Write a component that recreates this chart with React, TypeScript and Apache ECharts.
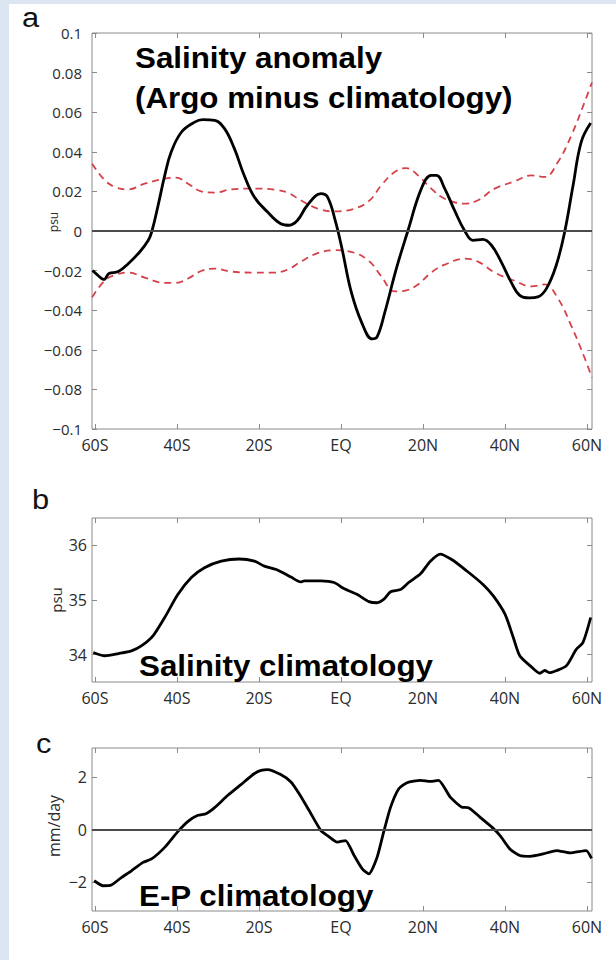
import { useEffect, useRef } from "react";
import * as echarts from "echarts";

// ---------- data ----------
const latTicks = [-60, -40, -20, 0, 20, 40, 60];
const latTickLabels = ["60S", "40S", "20S", "EQ", "20N", "40N", "60N"];

// panel a: salinity anomaly (Argo minus climatology), psu
const anomalyLat = [
  -60.6, -59.5, -57.8, -56.6, -54.3, -51.9, -49.1, -47.0, -46.1, -44.6, -43.0, -41.4, -38.9, -35.7,
  -33.7, -30.8, -28.4, -26.0, -23.6, -21.1, -17.9, -14.7, -12.6, -10.6, -8.2, -4.9, -3.3, -1.3, 0.3,
  2.5, 5.0, 7.6, 8.8, 10.7, 13.5, 16.3, 19.6, 22.0, 23.3, 25.3, 27.7, 30.2, 32.2, 34.6, 36.7, 39.1,
  41.5, 43.6, 46.0, 48.0, 50.1, 52.5, 54.6, 56.6, 58.6, 60.9,
];
const anomalyVal = [
  -0.02, -0.022, -0.0245, -0.0215, -0.0205, -0.0165, -0.0106, -0.0047, 0, 0.013, 0.028, 0.04, 0.05,
  0.055, 0.0562, 0.0559, 0.0517, 0.0416, 0.028, 0.017, 0.0096, 0.0037, 0.0029, 0.0054, 0.013, 0.0189,
  0.0172, 0.0045, -0.0095, -0.0308, -0.046, -0.0545, -0.0535, -0.041, -0.019, 0, 0.0214, 0.0281,
  0.0281, 0.0214, 0.0104, 0, -0.0047, -0.0042, -0.0072, -0.0157, -0.0258, -0.0325, -0.0338, -0.0333,
  -0.0291, -0.0173, 0, 0.023, 0.045, 0.0545,
];

// panel a: error bounds (red dashed)
const boundLat = [
  -60.7, -57.6, -55.1, -51.9, -47.9, -43.0, -40.2, -37.3, -34.1, -30.8, -26.8, -21.1, -16.3, -13.0,
  -9.8, -5.7, -1.7, 3.3, 7.0, 9.8, 13.1, 15.9, 18.8, 22.0, 25.3, 30.2, 33.4, 37.5, 42.4, 46.4, 49.7,
  52.9, 56.2, 59.4, 61.2,
];
const upperBound = [
  0.034, 0.0256, 0.0222, 0.021, 0.0239, 0.0264, 0.027, 0.0239, 0.02, 0.0194, 0.021, 0.0214, 0.0209,
  0.0194, 0.0155, 0.0113, 0.0099, 0.0113, 0.0155, 0.023, 0.0298, 0.0318, 0.0281, 0.0214, 0.0163,
  0.0138, 0.0155, 0.0214, 0.0251, 0.0281, 0.0273, 0.0348, 0.0483, 0.065, 0.075,
];
const lowerBound = [
  -0.0335, -0.025, -0.0222, -0.021, -0.0235, -0.0262, -0.0262, -0.024, -0.0202, -0.019, -0.0205,
  -0.021, -0.021, -0.0195, -0.0155, -0.0112, -0.0097, -0.011, -0.0155, -0.0228, -0.0305, -0.03,
  -0.027, -0.021, -0.017, -0.014, -0.0155, -0.021, -0.0252, -0.028, -0.027, -0.034, -0.048, -0.064,
  -0.074,
];

// panel b: salinity climatology, psu
const salinityLat = [
  -60.4, -57.6, -54.3, -51.1, -48.7, -45.8, -43.0, -39.8, -36.5, -33.3, -29.2, -24.8, -21.1, -18.7,
  -15.5, -12.2, -9.8, -9.0, -4.9, -1.7, 0.7, 4.0, 6.8, 8.8, 10.4, 12.1, 14.5, 16.5, 19.4, 21.8, 24.2,
  27.0, 30.7, 34.7, 37.2, 40.0, 42.0, 43.6, 46.1, 48.5, 49.7, 50.9, 52.6, 55.0, 57.4, 59.0, 60.9,
];
const salinityVal = [
  34.04, 33.98, 34.02, 34.07, 34.16, 34.35, 34.68, 35.1, 35.41, 35.59, 35.71, 35.75, 35.71, 35.62,
  35.55, 35.42, 35.33, 35.35, 35.35, 35.32, 35.21, 35.1, 34.97, 34.95, 35.01, 35.15, 35.19, 35.32,
  35.48, 35.71, 35.84, 35.74, 35.53, 35.28, 35.07, 34.74, 34.32, 33.98, 33.8, 33.66, 33.71, 33.67,
  33.71, 33.8, 34.1, 34.22, 34.68,
];

// panel c: E-P climatology, mm/day
const epLat = [
  -60.2, -58.0, -56.0, -53.5, -51.1, -48.3, -46.2, -43.0, -39.8, -37.3, -34.9, -32.9, -30.9, -27.6,
  -24.4, -21.1, -19.5, -17.9, -14.7, -12.2, -10.2, -7.8, -4.9, -3.3, -0.9, 1.1, 3.2, 5.2, 6.8, 8.8,
  10.4, 12.1, 14.1, 16.1, 19.4, 21.8, 23.8, 26.6, 29.5, 31.1, 33.9, 36.8, 38.8, 41.2, 43.6, 46.1,
  49.3, 52.6, 55.8, 59.8, 61.1,
];
const epVal = [
  -1.95, -2.14, -2.11, -1.82, -1.57, -1.25, -1.12, -0.68, -0.08, 0.31, 0.54, 0.6, 0.82, 1.3, 1.71,
  2.13, 2.25, 2.28, 2.09, 1.81, 1.36, 0.73, -0.04, -0.23, -0.48, -0.42, -0.99, -1.5, -1.69, -1.06,
  -0.1, 0.85, 1.55, 1.78, 1.87, 1.83, 1.87, 1.24, 0.85, 0.83, 0.47, 0.09, -0.23, -0.74, -0.99, -1.02,
  -0.93, -0.8, -0.89, -0.8, -1.1,
];

const salinityTicks = [34, 35, 36];
const epTicks = [-2, 0, 2];

// ---------- layout / style constants ----------
const LAT_MIN = -60.73;
const LAT_MAX = 61.22;
const TICK_FONT = '"Open Sans", "Noto Sans", sans-serif';
const TITLE_FONT = '"Liberation Sans", Arial, sans-serif';
const BOX = "#8a8a8a";
const LABEL = "#2b2b2b";

const zip = (xs: number[], ys: number[]) => xs.map((x, i) => [x, ys[i]]);
const minus = (s: string) => s.replace("-", "\u2212");
const latLabel = (v: number) => {
  const i = latTicks.indexOf(Math.round(v));
  return i >= 0 ? latTickLabels[i] : "";
};

export default function App() {
  const ref = useRef<HTMLDivElement>(null);

  useEffect(() => {
    if (!ref.current) return;
    const chart = echarts.init(ref.current, undefined, { renderer: "svg" });

    const grids = [
      { left: 92, top: 33, width: 500, height: 396 },
      { left: 92, top: 518, width: 500, height: 164 },
      { left: 92, top: 748, width: 500, height: 163 },
    ].map((g) => ({
      ...g,
      show: true,
      borderColor: BOX,
      borderWidth: 1,
      backgroundColor: "#ffffff",
      containLabel: false,
    }));

    const hiddenLine = { show: false, onZero: false };

    const xAxes: any[] = [];
    [0, 1, 2].forEach((gi) => {
      xAxes.push({
        type: "value",
        gridIndex: gi,
        position: "bottom",
        min: LAT_MIN,
        max: LAT_MAX,
        axisLine: hiddenLine,
        splitLine: { show: false },
        axisTick: {
          show: true,
          inside: true,
          length: 5,
          customValues: latTicks,
          lineStyle: { color: BOX, width: 1 },
        },
        axisLabel: {
          show: true,
          customValues: latTicks,
          formatter: (v: number) => latLabel(v),
          fontFamily: TICK_FONT,
          fontSize: 16,
          color: LABEL,
          margin: 8,
        },
      });
      xAxes.push({
        type: "value",
        gridIndex: gi,
        position: "top",
        min: LAT_MIN,
        max: LAT_MAX,
        axisLine: hiddenLine,
        splitLine: { show: false },
        axisLabel: { show: false },
        axisTick: {
          show: true,
          inside: true,
          length: 5,
          customValues: latTicks,
          lineStyle: { color: BOX, width: 1 },
        },
      });
    });

    const yDefs = [
      {
        min: -0.1,
        max: 0.1,
        interval: 0.02,
        custom: undefined as number[] | undefined,
        fmt: (v: number) => minus(String(Math.round(v * 100) / 100)),
        fontSize: 15,
        margin: 10,
      },
      {
        min: 33.5,
        max: 36.5,
        interval: undefined as number | undefined,
        custom: salinityTicks,
        fmt: (v: number) => String(v),
        fontSize: 16,
        margin: 5,
      },
      {
        min: -3.1,
        max: 3.1,
        interval: undefined as number | undefined,
        custom: epTicks,
        fmt: (v: number) => minus(String(v)),
        fontSize: 16,
        margin: 5,
      },
    ];
    const yAxes: any[] = [];
    yDefs.forEach((d, gi) => {
      const tick: any = {
        show: true,
        inside: true,
        length: 5,
        lineStyle: { color: BOX, width: 1 },
      };
      const label: any = {
        show: true,
        formatter: d.fmt,
        fontFamily: TICK_FONT,
        fontSize: d.fontSize,
        color: LABEL,
        margin: d.margin,
      };
      if (d.custom) {
        tick.customValues = d.custom;
        label.customValues = d.custom;
      }
      const base: any = {
        type: "value",
        gridIndex: gi,
        min: d.min,
        max: d.max,
        axisLine: hiddenLine,
        splitLine: { show: false },
      };
      if (d.interval) base.interval = d.interval;
      yAxes.push({ ...base, position: "left", axisTick: tick, axisLabel: label });
      yAxes.push({ ...base, position: "right", axisTick: { ...tick }, axisLabel: { show: false } });
    });

    const zeroLine = {
      silent: true,
      symbol: ["none", "none"],
      label: { show: false },
      lineStyle: { color: "#4a4a4a", width: 1.8, type: "solid" },
      data: [{ yAxis: 0 }],
    };

    const dashed = {
      color: "#d5414b",
      width: 1.8,
      type: [7, 5],
    };

    const series: any[] = [
      {
        type: "line",
        name: "upper",
        xAxisIndex: 0,
        yAxisIndex: 0,
        data: zip(boundLat, upperBound),
        showSymbol: false,
        smooth: 0.4,
        lineStyle: dashed,
        z: 2,
      },
      {
        type: "line",
        name: "lower",
        xAxisIndex: 0,
        yAxisIndex: 0,
        data: zip(boundLat, lowerBound),
        showSymbol: false,
        smooth: 0.4,
        lineStyle: dashed,
        z: 2,
      },
      {
        type: "line",
        name: "anomaly",
        xAxisIndex: 0,
        yAxisIndex: 0,
        data: zip(anomalyLat, anomalyVal),
        showSymbol: false,
        smooth: 0.4,
        lineStyle: { color: "#000", width: 2.8 },
        markLine: zeroLine,
        z: 3,
      },
      {
        type: "line",
        name: "salinity",
        xAxisIndex: 2,
        yAxisIndex: 2,
        data: zip(salinityLat, salinityVal),
        showSymbol: false,
        smooth: 0.25,
        lineStyle: { color: "#000", width: 2.8 },
        z: 3,
      },
      {
        type: "line",
        name: "ep",
        xAxisIndex: 4,
        yAxisIndex: 4,
        data: zip(epLat, epVal),
        showSymbol: false,
        smooth: 0.2,
        lineStyle: { color: "#000", width: 2.8 },
        markLine: zeroLine,
        z: 3,
      },
    ];

    const title = (text: string, x: number, y: number) => ({
      type: "text",
      x,
      y,
      scaleX: 1.08,
      z: 100,
      style: {
        text,
        fill: "#000",
        font: `bold 29px ${TITLE_FONT}`,
        textAlign: "left",
        textVerticalAlign: "middle",
      },
    });
    const letter = (text: string, x: number, y: number) => ({
      type: "text",
      x,
      y,
      scaleX: 1.1,
      z: 100,
      style: {
        text,
        fill: "#111",
        font: `28px ${TITLE_FONT}`,
        textAlign: "left",
        textVerticalAlign: "middle",
      },
    });
    const yName = (text: string, x: number, y: number, size: number) => ({
      type: "text",
      x,
      y,
      rotation: Math.PI / 2,
      z: 100,
      style: {
        text,
        fill: LABEL,
        font: `${size}px ${TICK_FONT}`,
        textAlign: "center",
        textVerticalAlign: "middle",
      },
    });

    chart.setOption({
      animation: false,
      backgroundColor: "transparent",
      grid: grids,
      xAxis: xAxes,
      yAxis: yAxes,
      series,
      graphic: [
        letter("a", 22, 17),
        letter("b", 32, 499),
        letter("c", 36, 743),
        title("Salinity anomaly", 135, 58),
        title("(Argo minus climatology)", 135, 98),
        title("Salinity climatology", 139, 666),
        title("E-P climatology", 139, 896),
        yName("psu", 53, 222, 12),
        yName("psu", 55.5, 600, 15),
        yName("mm/day", 54, 826, 16),
      ],
    });

    return () => chart.dispose();
  }, []);

  return (
    <div
      style={{
        position: "absolute",
        left: 0,
        top: 0,
        width: 616,
        height: 960,
        background: "#dce6f2",
        overflow: "hidden",
      }}
    >
      <div
        style={{
          position: "absolute",
          left: 9,
          top: 4,
          right: 0,
          bottom: 0,
          background: "#ffffff",
        }}
      />
      <div ref={ref} style={{ position: "absolute", left: 0, top: 0, width: 616, height: 960 }} />
    </div>
  );
}
